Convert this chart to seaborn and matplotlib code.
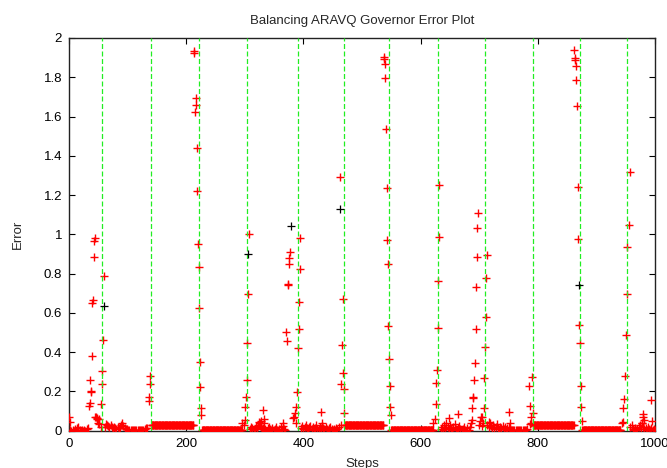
import numpy as np
import pandas as pd
import matplotlib
matplotlib.use("Agg")
import matplotlib.pyplot as plt
import seaborn as sns

# Steps at which the governor switched module (green guides)
switch_steps = [56, 140, 222, 304, 390, 469, 546, 629, 710, 791, 872, 953]

# Plateaus where the error held a constant level
plateau_start = [141, 227, 471, 550, 792, 876]
plateau_end = [212, 295, 536, 621, 861, 941]
plateau_error = [0.029, 0.004, 0.029, 0.004, 0.029, 0.004]

# Low-level readings, one every other step from each start step
low_start = [2, 61, 309, 396, 634, 714, 958]
low_errors = [
    [0.005, 0.0, 0.003, 0.0, 0.008, 0.0, 0.012, 0.02, 0.004, 0.0, 0.006, 0.0,
     0.003, 0.0, 0.008, 0.015],
    [0.02, 0.034, 0.03, 0.025, 0.02, 0.028, 0.018, 0.012, 0.02, 0.015, 0.01,
     0.018, 0.012, 0.02, 0.03, 0.038, 0.025, 0.012, 0.008, 0.01, 0.005, 0.004,
     0.003, 0.004, 0.002, 0.003, 0.004, 0.002, 0.003, 0.002, 0.004, 0.006,
     0.003, 0.005, 0.008, 0.012, 0.015],
    [0.01, 0.02, 0.015, 0.005, 0.01, 0.025, 0.012, 0.03, 0.045, 0.02, 0.01,
     0.015, 0.005, 0.01, 0.0, 0.012, 0.02, 0.008, 0.005, 0.015, 0.003, 0.01,
     0.02, 0.006, 0.0, 0.01, 0.018, 0.005, 0.025, 0.01, 0.004],
    [0.015, 0.025, 0.01, 0.02, 0.03, 0.012, 0.005, 0.018, 0.025, 0.01, 0.02,
     0.008, 0.015, 0.028, 0.01, 0.005, 0.02, 0.012, 0.025, 0.015, 0.008, 0.018,
     0.01, 0.003, 0.012, 0.02, 0.008, 0.004, 0.01, 0.006, 0.015, 0.01, 0.02],
    [0.01, 0.02, 0.005, 0.03, 0.015, 0.04, 0.02, 0.008, 0.03, 0.012, 0.005,
     0.02, 0.035, 0.01, 0.003, 0.015, 0.025, 0.008, 0.002, 0.01, 0.02, 0.005,
     0.0, 0.012, 0.006, 0.02],
    [0.03, 0.02, 0.04, 0.025, 0.015, 0.03, 0.01, 0.02, 0.035, 0.015, 0.008,
     0.02, 0.012, 0.025, 0.01, 0.018, 0.005, 0.015, 0.02, 0.01, 0.006, 0.003,
     0.004, 0.002, 0.003, 0.005, 0.002, 0.004, 0.003, 0.002, 0.005, 0.003,
     0.004, 0.002, 0.01],
    [0.02, 0.03, 0.01, 0.005, 0.015, 0.003, 0.01, 0.02, 0.03, 0.008, 0.04,
     0.02, 0.01, 0.015, 0.005, 0.02, 0.008, 0.003, 0.012, 0.006, 0.01, 0.004],
]

# Individual readings: error spikes and scattered points
spike_steps = [
    0, 1, 34, 35, 36, 37, 38, 39, 40, 41, 42, 43, 44, 45, 46, 47, 48, 49, 51,
    52, 54, 55, 56, 57, 58, 60, 136, 137, 138, 139,
    213, 214, 215, 216, 217, 218, 219, 220, 221, 222, 223, 224, 225, 226,
    296, 298, 300, 301, 302, 303, 304, 305, 307,
    326, 328, 331, 332, 333, 365,
    371, 372, 373, 374, 375, 376, 377, 382, 384, 386, 387, 388, 389,
    391, 392, 393, 394, 395, 430, 431,
    462, 464, 465, 466, 467, 468, 469, 470,
    537, 538, 539, 540, 541, 542, 543, 544, 545, 546, 547, 548, 549,
    622, 625, 626, 627, 628, 629, 630, 631, 632, 648, 663,
    686, 687, 688, 689, 690, 691, 693, 694, 695, 696, 697, 698,
    700, 701, 703, 704, 705, 706, 708, 709, 710, 711, 712, 713, 717,
    751, 752, 785, 786, 787, 788, 789, 790, 791,
    862, 863, 864, 865, 866, 867, 868, 869, 871, 872, 873, 874, 875,
    943, 945, 946, 947, 948, 951, 952, 953, 955, 957,
    978, 979, 980, 981, 994, 995,
]
spike_errors = [
    0.072, 0.046, 0.125, 0.14, 0.26, 0.2, 0.195, 0.38, 0.65, 0.664, 0.885,
    0.965, 0.98, 0.07, 0.072, 0.06, 0.065, 0.038, 0.06, 0.034, 0.02, 0.137,
    0.24, 0.303, 0.464, 0.79, 0.174, 0.15, 0.24, 0.277,
    1.935, 1.925, 1.624, 1.696, 1.658, 1.44, 1.22, 0.952, 0.833, 0.624, 0.349,
    0.222, 0.115, 0.08,
    0.038, 0.029, 0.055, 0.123, 0.174, 0.26, 0.448, 0.697, 1.0,
    0.04, 0.05, 0.106, 0.058, 0.038, 0.038,
    0.503, 0.455, 0.745, 0.74, 0.848, 0.88, 0.91, 0.063, 0.072, 0.089, 0.038,
    0.12, 0.195,
    0.42, 0.518, 0.658, 0.824, 0.983, 0.097, 0.038,
    1.29, 0.029, 0.24, 0.436, 0.67, 0.294, 0.212, 0.092,
    1.905, 1.893, 1.87, 1.795, 1.539, 1.238, 0.97, 0.85, 0.533, 0.363, 0.23,
    0.12, 0.082,
    0.038, 0.06, 0.137, 0.243, 0.31, 0.525, 0.761, 0.987, 1.251, 0.063, 0.085,
    0.038, 0.055, 0.115, 0.174, 0.166, 0.256, 0.345, 0.516, 0.73, 0.884, 1.03,
    1.11,
    0.03, 0.05, 0.068, 0.025, 0.072, 0.04, 0.115, 0.268, 0.426, 0.58, 0.78,
    0.894, 0.046,
    0.097, 0.041, 0.226, 0.128, 0.034, 0.041, 0.072, 0.274, 0.092,
    1.94, 1.9, 1.89, 1.856, 1.788, 1.653, 1.243, 0.974, 0.537, 0.445, 0.229,
    0.123, 0.051,
    0.038, 0.046, 0.118, 0.16, 0.28, 0.487, 0.696, 0.935, 1.046, 1.316,
    0.041, 0.085, 0.072, 0.055, 0.154, 0.051,
]

# Readings marked in black
black_steps = [59, 306, 378, 463, 870]
black_errors = [0.633, 0.9, 1.043, 1.127, 0.744]

# Assemble the red series
steps, errors = [], []
for s0, s1, e in zip(plateau_start, plateau_end, plateau_error):
    run = list(range(s0, s1 + 1))
    steps += run
    errors += [e] * len(run)
for s0, vals in zip(low_start, low_errors):
    steps += [s0 + 2 * i for i in range(len(vals))]
    errors += vals
steps += spike_steps
errors += spike_errors
red = pd.DataFrame({"Steps": steps, "Error": errors})
black = pd.DataFrame({"Steps": black_steps, "Error": black_errors})

sns.set_style("ticks")
plt.rcParams["font.family"] = ["Liberation Sans", "DejaVu Sans"]

fig = plt.figure(figsize=(6.67, 4.68), dpi=100)
ax = fig.add_axes([69 / 667, 1 - 430.7 / 468, 586 / 667, (430.7 - 38) / 468])

sns.scatterplot(data=red, x="Steps", y="Error", marker="+", color="#ff0000",
                s=32, linewidth=1.0, ax=ax, zorder=3, legend=False)
sns.scatterplot(data=black, x="Steps", y="Error", marker="+", color="#000000",
                s=32, linewidth=0.9, ax=ax, zorder=5, legend=False)

for s in switch_steps:
    ax.axvline(s, color="#22ee22", lw=0.9, dashes=(4, 2), zorder=4)

ax.set_xlim(0, 1000)
ax.set_ylim(0, 2)
ax.set_xticks([0, 200, 400, 600, 800, 1000])
ax.set_yticks([0, 0.2, 0.4, 0.6, 0.8, 1, 1.2, 1.4, 1.6, 1.8, 2])
ax.set_yticklabels(["0", "0.2", "0.4", "0.6", "0.8", "1", "1.2", "1.4", "1.6",
                    "1.8", "2"])
ax.tick_params(direction="in", length=4.5, width=0.8, top=True, right=True,
               labelsize=9.5, colors="#000000", pad=5)
for sp in ax.spines.values():
    sp.set_visible(True)
    sp.set_color("#222222")
    sp.set_linewidth(1.0)

ax.set_xlabel("Steps", fontsize=9.5, labelpad=6)
ax.set_ylabel("Error", fontsize=9.5, labelpad=14)
ax.set_title("Balancing ARAVQ Governor Error Plot", fontsize=9.5, pad=10)

fig.savefig("out.png", dpi=100)
